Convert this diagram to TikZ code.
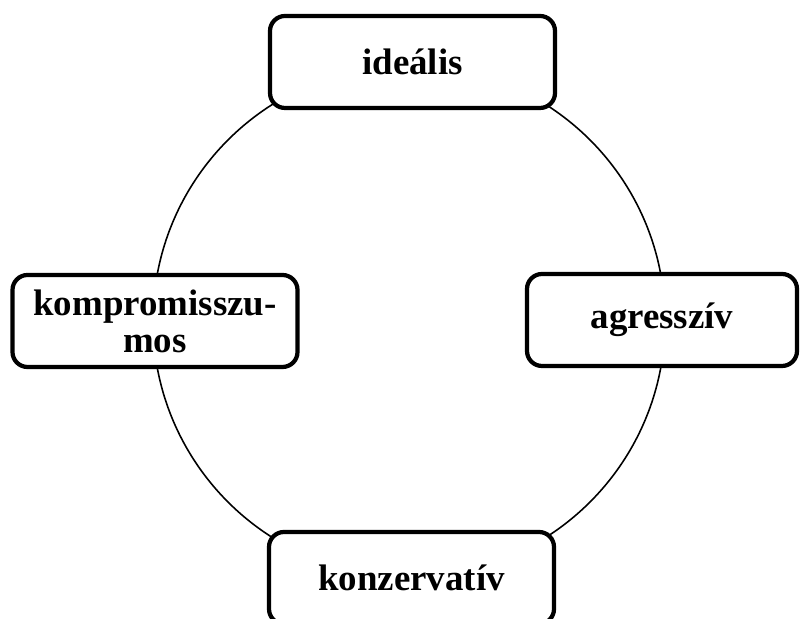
\documentclass[tikz,border=0pt]{standalone}
\usepackage{fontspec}
\setmainfont{Liberation Serif}
\usetikzlibrary{positioning}

\begin{document}
\begin{tikzpicture}[
            every node/.style={align=center},
            phase/.style={draw, line width=1.2pt, rounded corners=.15cm, fill=white,
                minimum width=2.85cm, minimum height=.92cm, inner sep=0pt,
                font=\fontsize{10.5}{10.5}\selectfont\bfseries},
            ring/.style={line width=.45pt}]
        \useasboundingbox (0,0) rectangle (8,6.19);
        \clip (0,0) rectangle (8,6.19);
        \coordinate (M) at (4.09,2.98);
        \draw[ring] (M) circle (2.56);

        \node[phase] (I) at (4.125,5.57) {ideális};
        \node[phase] (K) at (1.55,2.98) {kompromisszu-\\mos};
        \node[phase, minimum width=2.70cm] (A) at (6.62,2.99) {agresszív};
        \node[phase] (C) at (4.115,0.41) {konzervatív};
    \end{tikzpicture}
\end{document}
